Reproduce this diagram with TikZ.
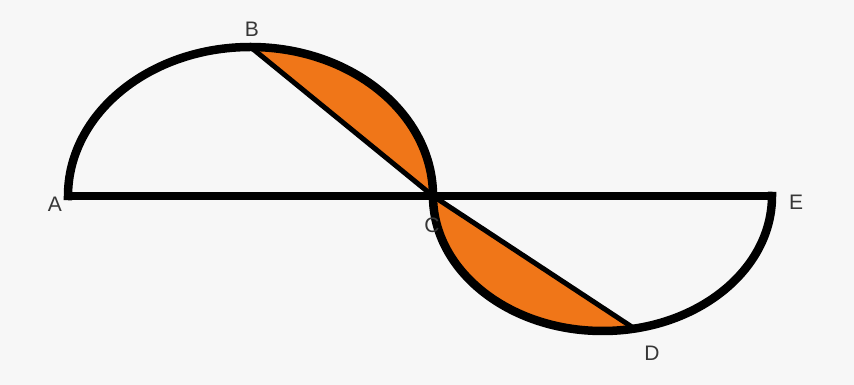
\documentclass[tikz,border=0pt]{standalone}
\usepackage{fontspec}
\setmainfont{Liberation Sans}
\definecolor{bg}{RGB}{247,247,247}
\definecolor{fillorange}{RGB}{240,118,24}
\definecolor{labelgray}{RGB}{55,55,55}
\begin{document}
\begin{tikzpicture}[x=1pt,y=1pt,
  arcline/.style={line width=8.5pt,black,line cap=rect},
  baseline/.style={line width=7.5pt,black,line cap=rect},
  chordline/.style={line width=5pt,black,line cap=round},
  ptlabel/.style={text=labelgray,font=\fontsize{21}{21}\selectfont,inner sep=0pt}]
\fill[bg] (0,0) rectangle (854,385);
\useasboundingbox (0,0) rectangle (854,385);
% points
\coordinate (A) at (68,189);
\coordinate (B) at (250.5,338);
\coordinate (C) at (433,189);
\coordinate (D) at (635,56);
\coordinate (E) at (772,189);
% orange segments
\begin{scope}
  \clip (B) -- (C) -- (520,189) -- (520,360) -- (250.5,360) -- cycle;
  \fill[fillorange] (250.5,189) ellipse[x radius=182.5, y radius=149];
\end{scope}
\begin{scope}
  \clip (C) -- (D) -- (635,20) -- (420,20) -- (420,189) -- cycle;
  \fill[fillorange] (602.5,189) ellipse[x radius=169.5, y radius=135];
\end{scope}
% chords
\draw[chordline] (B) -- (C);
\draw[chordline] (C) -- (D);
% base line
\draw[baseline] (A) -- (E);
% arcs
\draw[arcline] (A) arc[start angle=180, end angle=0, x radius=182.5, y radius=149];
\draw[arcline] (C) arc[start angle=180, end angle=360, x radius=169.5, y radius=135];
% labels
\node[ptlabel] (lB) at (252,356) {B};
\node[ptlabel] (lA) at (55,181) {A};
\node[ptlabel] (lC) at (432,160) {C};
\node[ptlabel] (lD) at (652,32) {D};
\node[ptlabel] (lE) at (796,183) {E};
\end{tikzpicture}
\end{document}
